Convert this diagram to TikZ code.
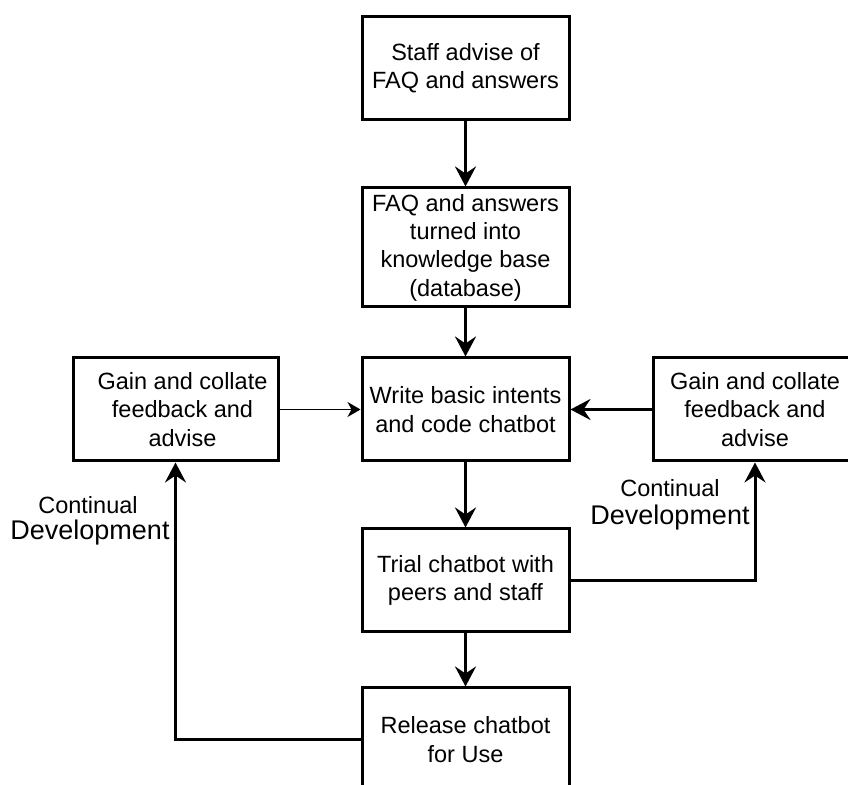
\documentclass[tikz,border=0pt]{standalone}
\usepackage{fontspec}
\setmainfont{Liberation Sans}
\usetikzlibrary{arrows.meta}
\begin{document}
\begin{tikzpicture}[x=1pt,y=1pt,
  box/.style={draw, line width=3pt, fill=white, minimum width=207pt,
    minimum height=103pt, align=center, inner sep=0pt,
    font=\fontsize{23.5}{28.3}\selectfont},
  flow/.style={line width=3pt, -{Stealth[length=20pt,width=21pt,inset=7pt]}},
  thinflow/.style={line width=1.5pt, -{Stealth[length=13pt,width=15pt,inset=4pt]}},
  small/.style={inner sep=0pt, font=\fontsize{23.5}{28}\selectfont},
  big/.style={inner sep=0pt, font=\fontsize{27}{32}\selectfont}]
\useasboundingbox (0,0) rectangle (848,784);
\clip (0,0) rectangle (848,784);

% process boxes
\node[box] (staff) at (465.5,715.5) {Staff advise of\\FAQ and answers};
\node[box, minimum height=119pt] (kb) at (465.5,536.5)
  {FAQ and answers\\turned into\\knowledge base\\(database)};
\node[box] (write) at (465.5,374.5) {Write basic intents\\and code chatbot};
\node[box, minimum width=205pt] (fbleft) at (175.5,374.5)
  {\hspace*{14pt}Gain and collate\\\hspace*{14pt}feedback and\\\hspace*{14pt}advise};
\node[box, minimum width=204pt] (fbright) at (755,374.5)
  {Gain and collate\\feedback and\\advise};
\node[box] (trial) at (465.5,203.5) {Trial chatbot with\\peers and staff};
\node[box] (release) at (465.5,44.5) {Release chatbot\\for Use};

% loop labels
\node[small] (contR) at (670,296) {Continual};
\node[big] (devR) at (670,266) {Development};
\node[small] (contL) at (88,279) {Continual};
\node[big] (devL) at (90,251) {Development};

% main flow
\draw[flow] (staff.south) -- (kb.north);
\draw[flow] (kb.south) -- (write.north);
\draw[flow] (write.south) -- (trial.north);
\draw[flow] (trial.south) -- (release.north);

% feedback loops
\draw[flow] (trial.east) -| (fbright.south);
\draw[flow] (fbright.west) -- (write.east);
\draw[flow] (release.west) -| (fbleft.south);
\draw[thinflow] (fbleft.east) -- (write.west);
\end{tikzpicture}
\end{document}
